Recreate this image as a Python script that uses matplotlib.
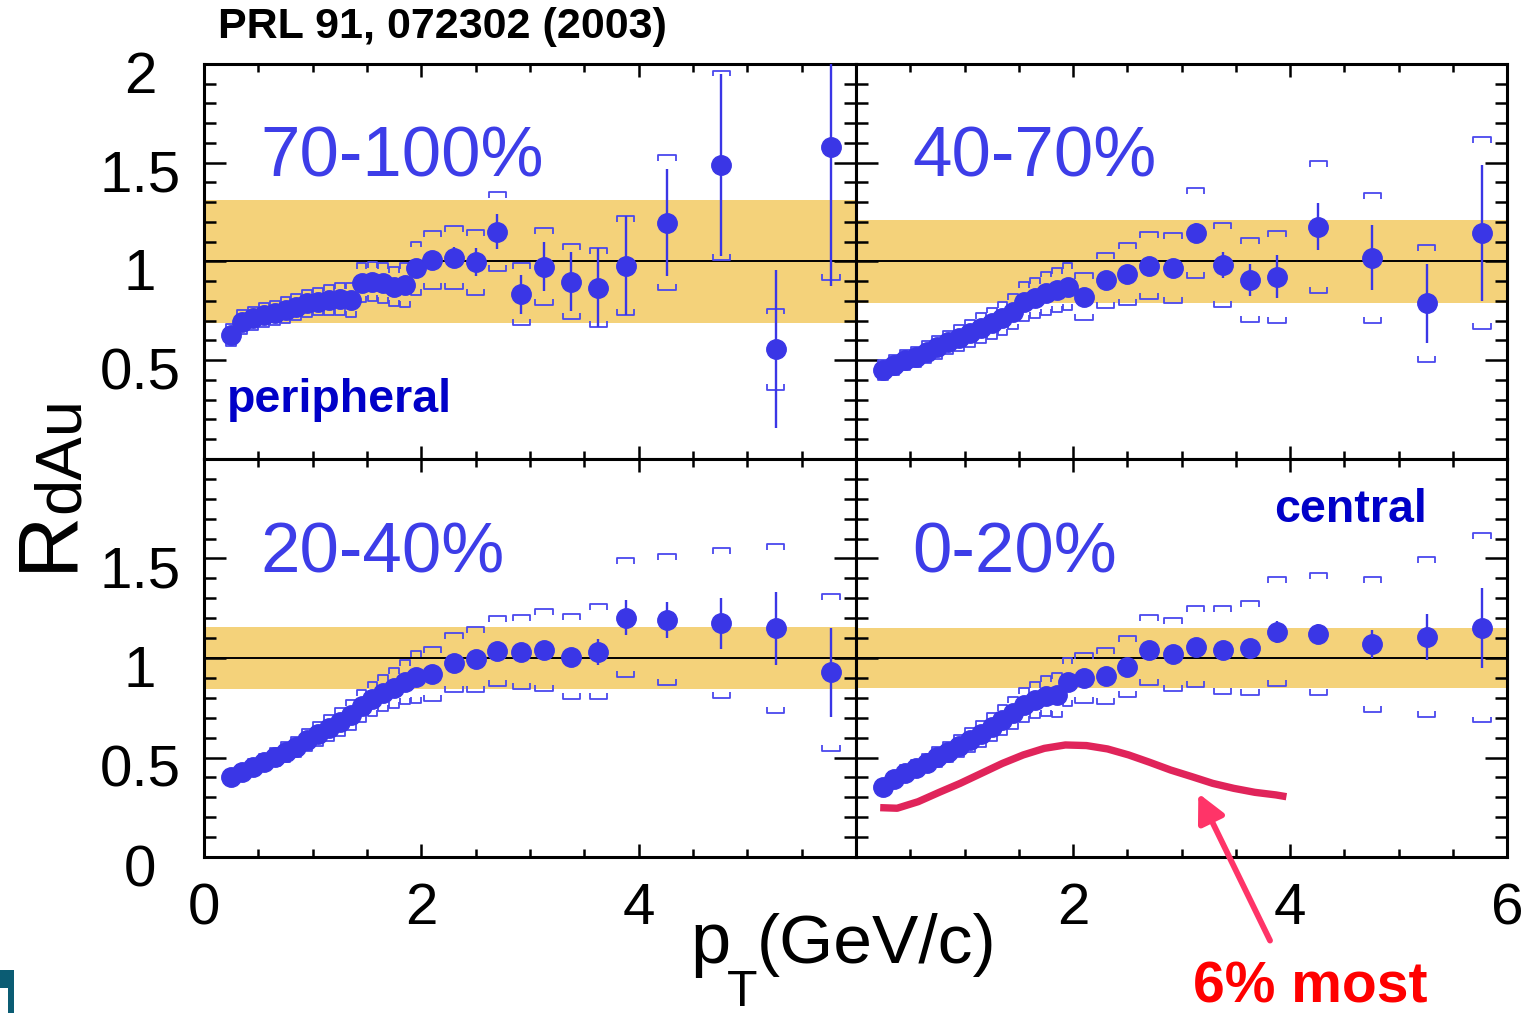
import matplotlib
matplotlib.use('Agg')
import matplotlib.pyplot as plt
from matplotlib.ticker import FixedLocator, MultipleLocator
from matplotlib.transforms import ScaledTranslation
from matplotlib.collections import LineCollection
from matplotlib.patches import Rectangle

plt.rcParams['font.family'] = ['Liberation Sans', 'DejaVu Sans']

# ---------------- data ----------------
pt = [0.25, 0.35, 0.45, 0.55, 0.65, 0.75, 0.85, 0.95, 1.05, 1.15, 1.25, 1.35, 1.45, 1.55,
      1.65, 1.75, 1.85, 1.95, 2.10, 2.30, 2.50, 2.70, 2.92, 3.13, 3.38, 3.63, 3.88, 4.26,
      4.76, 5.26, 5.77]

centrality_labels = ['70-100%', '40-70%', '20-40%', '0-20%']

r_70_100 = [0.628, 0.695, 0.712, 0.729, 0.741, 0.754, 0.771, 0.788, 0.797, 0.805, 0.809, 0.805,
            0.893, 0.898, 0.890, 0.873, 0.881, 0.966, 1.008, 1.020, 0.996, 1.151, 0.834, 0.974,
            0.898, 0.868, 0.979, 1.197, 1.487, 0.555, 1.578]
stat_70_100 = [0.01, 0.01, 0.01, 0.01, 0.01, 0.01, 0.01, 0.01, 0.01, 0.01, 0.01, 0.01, 0.01,
               0.01, 0.01, 0.01, 0.01, 0.01, 0.02, 0.055, 0.07, 0.09, 0.10, 0.125, 0.15, 0.20,
               0.25, 0.27, 0.46, 0.40, 0.70]
sys_70_100 = [0.055, 0.06, 0.06, 0.06, 0.06, 0.065, 0.065, 0.07, 0.07, 0.075, 0.08, 0.085, 0.10,
              0.10, 0.10, 0.10, 0.11, 0.135, 0.148, 0.16, 0.165, 0.20, 0.157, 0.194, 0.19,
              0.198, 0.25, 0.34, 0.48, 0.207, 0.67]

r_40_70 = [0.451, 0.476, 0.501, 0.518, 0.543, 0.565, 0.590, 0.611, 0.636, 0.662, 0.687, 0.712,
           0.746, 0.797, 0.814, 0.839, 0.856, 0.873, 0.822, 0.906, 0.937, 0.979, 0.966, 1.146,
           0.982, 0.906, 0.923, 1.176, 1.019, 0.788, 1.143]
stat_40_70 = [0.01, 0.01, 0.01, 0.01, 0.01, 0.01, 0.01, 0.01, 0.01, 0.01, 0.01, 0.01, 0.01,
              0.01, 0.01, 0.01, 0.01, 0.01, 0.01, 0.02, 0.02, 0.02, 0.02, 0.05, 0.065, 0.08,
              0.11, 0.12, 0.165, 0.20, 0.345]
sys_40_70 = [0.05, 0.05, 0.05, 0.05, 0.055, 0.06, 0.06, 0.065, 0.07, 0.075, 0.08, 0.085, 0.09,
             0.10, 0.10, 0.11, 0.11, 0.12, 0.118, 0.139, 0.155, 0.17, 0.178, 0.228, 0.211,
             0.211, 0.232, 0.333, 0.329, 0.296, 0.486]

r_20_40 = [0.404, 0.429, 0.454, 0.479, 0.501, 0.529, 0.554, 0.588, 0.616, 0.647, 0.680, 0.714,
           0.760, 0.795, 0.825, 0.850, 0.880, 0.905, 0.918, 0.977, 0.993, 1.035, 1.029, 1.040,
           1.007, 1.032, 1.203, 1.193, 1.174, 1.149, 0.928]
stat_20_40 = [0.01, 0.01, 0.01, 0.01, 0.01, 0.01, 0.01, 0.01, 0.01, 0.01, 0.01, 0.01, 0.01,
              0.01, 0.01, 0.01, 0.01, 0.01, 0.01, 0.015, 0.015, 0.015, 0.015, 0.02, 0.02,
              0.065, 0.088, 0.09, 0.127, 0.185, 0.225]
sys_20_40 = [0.035, 0.035, 0.04, 0.04, 0.045, 0.05, 0.05, 0.055, 0.06, 0.065, 0.07, 0.075, 0.08,
             0.085, 0.09, 0.10, 0.11, 0.13, 0.135, 0.15, 0.163, 0.175, 0.187, 0.206, 0.213,
             0.238, 0.297, 0.33, 0.377, 0.424, 0.393]

r_0_20 = [0.353, 0.390, 0.420, 0.446, 0.471, 0.501, 0.529, 0.558, 0.588, 0.618, 0.652, 0.688,
          0.725, 0.764, 0.790, 0.810, 0.815, 0.881, 0.898, 0.911, 0.956, 1.040, 1.018, 1.057,
          1.040, 1.049, 1.132, 1.121, 1.069, 1.107, 1.152]
stat_0_20 = [0.01, 0.01, 0.01, 0.01, 0.01, 0.01, 0.01, 0.01, 0.01, 0.01, 0.01, 0.01, 0.01,
             0.01, 0.01, 0.01, 0.01, 0.01, 0.01, 0.01, 0.01, 0.015, 0.015, 0.02, 0.02, 0.025,
             0.055, 0.05, 0.07, 0.115, 0.20]
sys_0_20 = [0.035, 0.035, 0.04, 0.04, 0.045, 0.05, 0.05, 0.055, 0.06, 0.065, 0.07, 0.075, 0.08,
            0.085, 0.09, 0.10, 0.11, 0.12, 0.126, 0.14, 0.153, 0.178, 0.182, 0.204, 0.22,
            0.237, 0.274, 0.308, 0.339, 0.402, 0.476]

# normalisation uncertainty bands (half-widths around 1)
band_halfwidth = [0.31, 0.21, 0.157, 0.152]

# "6% most central" curve (0-20% panel)
curve_pt = [0.223, 0.379, 0.573, 0.767, 0.960, 1.154, 1.348, 1.542, 1.736, 1.930, 2.124,
            2.318, 2.512, 2.706, 2.900, 3.094, 3.288, 3.482, 3.676, 3.870, 3.967]
curve_r = [0.248, 0.245, 0.278, 0.325, 0.370, 0.420, 0.470, 0.513, 0.546, 0.563, 0.560,
           0.543, 0.513, 0.476, 0.437, 0.404, 0.370, 0.345, 0.325, 0.312, 0.303]

x_ticks = [0, 2, 4, 6]
y_ticks = [0, 0.5, 1, 1.5, 2]
ylabels_top = ['', '0.5', '1', '1.5', '2']
ylabels_bottom = ['0', '0.5', '1', '1.5', '']
xlabels_left = ['0', '2', '4', '']
xlabels_right = ['', '2', '4', '6']

# ---------------- style ----------------
BLUE = '#3a36e6'
BRACKET = '#4a48ee'
BAND = '#f4d27a'
PCT = '#3d3de8'
DARKBLUE = '#0000c8'

W, H = 1525, 1013
fig = plt.figure(figsize=(W / 100, H / 100), dpi=100)

def px_box(x0, y0, x1, y1):
    return [x0 / W, 1 - y1 / H, (x1 - x0) / W, (y1 - y0) / H]

boxes = [px_box(204, 64, 856, 459), px_box(856, 64, 1507, 459),
         px_box(204, 459, 856, 857), px_box(856, 459, 1507, 857)]
datasets = [(r_70_100, stat_70_100, sys_70_100), (r_40_70, stat_40_70, sys_40_70),
            (r_20_40, stat_20_40, sys_20_40), (r_0_20, stat_0_20, sys_0_20)]

axes = []
for i, box in enumerate(boxes):
    ax = fig.add_axes(box)
    axes.append(ax)
    r, st, sy = datasets[i]
    h = band_halfwidth[i]
    ax.axhspan(1 - h, 1 + h, color=BAND, lw=0, zorder=0)
    ax.axhline(1, color='black', lw=1.4, zorder=1)

    segs = []
    leg = 0.03
    for x, y, s in zip(pt, r, sy):
        hw = 0.045 if x < 2.05 else 0.08
        top, bot = y + s, y - s
        segs.append([(x - hw, top - leg), (x - hw, top), (x + hw, top), (x + hw, top - leg)])
        segs.append([(x - hw, bot + leg), (x - hw, bot), (x + hw, bot), (x + hw, bot + leg)])
    ax.add_collection(LineCollection(segs, colors=BRACKET, linewidths=1.3, zorder=3))

    lo = [y - e for y, e in zip(r, st)]
    hi = [y + e for y, e in zip(r, st)]
    ax.vlines(pt, lo, hi, color=BLUE, lw=1.7, zorder=4)
    ax.plot(pt, r, 'o', ms=14, color=BLUE, mec=BLUE, zorder=5)

    ax.set_xlim(0, 6)
    ax.set_ylim(0, 2)
    ax.xaxis.set_major_locator(FixedLocator(x_ticks))
    ax.xaxis.set_minor_locator(MultipleLocator(0.5))
    ax.yaxis.set_major_locator(FixedLocator(y_ticks))
    ax.yaxis.set_minor_locator(MultipleLocator(0.1))
    ax.tick_params(which='both', direction='in', top=True, right=True, width=1.8,
                   colors='black')
    ax.tick_params(axis='x', which='major', length=9.5, pad=18, labelsize=42)
    ax.tick_params(axis='x', which='minor', length=5.5)
    ax.tick_params(axis='y', which='major', length=16, pad=46, labelsize=42)
    ax.tick_params(axis='y', which='minor', length=8.5)
    for s in ax.spines.values():
        s.set_linewidth(2.2)
    ax.set_facecolor('white')

    # centrality label
    ax.text(0.52, 1.43, centrality_labels[i], fontsize=51, color=PCT, ha='left',
            va='baseline', zorder=6)

# tick labels
axes[0].set_yticklabels(ylabels_top, ha='center')
axes[2].set_yticklabels(ylabels_bottom, ha='center')
axes[2].set_xticklabels(xlabels_left)
axes[3].set_xticklabels(xlabels_right)
for k in (0, 1):
    axes[k].tick_params(axis='x', labelbottom=False)
for k in (1, 3):
    axes[k].tick_params(axis='y', labelleft=False)

off = ScaledTranslation(0, -8 / 100, fig.dpi_scale_trans)
for k in (0, 2):
    for lbl in axes[k].get_yticklabels():
        lbl.set_transform(lbl.get_transform() + off)

axes[0].text(0.21, 0.24, 'peripheral', fontsize=33.5, fontweight='bold', color=DARKBLUE,
             ha='left', va='baseline', zorder=6)
axes[3].text(3.85, 1.685, 'central', fontsize=33.5, fontweight='bold', color=DARKBLUE,
             ha='left', va='baseline', zorder=6)

# 6% most central curve and arrow
axes[3].plot(curve_pt, curve_r, color='#e0245a', lw=5.3, solid_capstyle='butt',
             solid_joinstyle='round', zorder=6)
axes[3].annotate('', xy=(3.155, 0.32), xytext=(3.816, -0.42), xycoords='data',
                 textcoords='data', annotation_clip=False,
                 arrowprops=dict(arrowstyle='-|>,head_length=1.7,head_width=0.85',
                                 lw=4.2, color='#ff3468', shrinkA=0, shrinkB=0,
                                 mutation_scale=10))

# figure texts
fig.text(218 / W, 1 - 38 / H, 'PRL 91, 072302 (2003)', fontsize=31, fontweight='bold',
         color='black', ha='left', va='baseline')
fig.text(1193 / W, 1 - 1002 / H, '6% most', fontsize=41, fontweight='bold', color='#ff0000',
         ha='left', va='baseline')

# axis titles
fig.text(690 / W, 1 - 963 / H, 'p', fontsize=52, ha='left', va='baseline')
fig.text(727 / W, 1 - 1006 / H, 'T', fontsize=36, ha='left', va='baseline')
fig.text(757 / W, 1 - 963 / H, '(GeV/c)', fontsize=50, ha='left', va='baseline')
fig.text(48 / W, 1 - 540 / H, 'R', fontsize=62, rotation=90, ha='center', va='center')
fig.text(62 / W, 1 - 455 / H, 'dAu', fontsize=47, rotation=90, ha='center', va='center')

# small teal slide decoration in the lower-left corner
fig.patches.append(Rectangle((0, 0), 14 / W, 43 / H, transform=fig.transFigure,
                             color='#0b5c73', lw=0))
fig.patches.append(Rectangle((0, 0), 8 / W, 25 / H, transform=fig.transFigure,
                             color='white', lw=0))

fig.savefig('out.png', dpi=100)
